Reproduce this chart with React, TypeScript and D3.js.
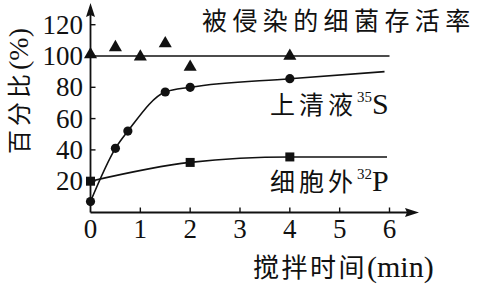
import React from "react";
import * as d3 from "d3";

const W = 480;
const H = 284;

const xTicks = [0, 1, 2, 3, 4, 5, 6];
const yTicks = [20, 40, 60, 80, 100, 120];

// 被侵染的细菌存活率 (triangles)
const survivalTimes = [0, 0.5, 1, 1.5, 2, 4];
const survivalValues = [101, 105.5, 99.5, 108, 93, 100];
const survivalLine = [
  [0, 100],
  [6, 100],
];

// 上清液35S (circles)
const sulfurTimes = [0, 0.5, 0.75, 1.5, 2, 4];
const sulfurValues = [7, 41, 52, 77, 80, 85.5];
const sulfurEnd = [5.9, 90];

// 细胞外32P (squares)
const phosTimes = [0, 2, 4];
const phosValues = [20, 32, 35.5];
const phosEnd = [5.95, 35.5];

const serif = "'Liberation Serif', 'Times New Roman', serif";
const cjk = "'Noto Sans CJK SC', sans-serif";

export default function App() {
  const x = d3.scaleLinear().domain([0, 6]).range([90.5, 389.5]);
  const y = d3.scaleLinear().domain([0, 120]).range([212.5, 24.7]);

  const line = d3
    .line<number[]>()
    .x((d) => x(d[0]))
    .y((d) => y(d[1]))
    .curve(d3.curveMonotoneX);

  const sulfurPts = sulfurTimes.map((t, i) => [t, sulfurValues[i]]).concat([sulfurEnd]);
  const phosPts = phosTimes.map((t, i) => [t, phosValues[i]]).concat([phosEnd]);

  const tri = d3.symbol().type(d3.symbolTriangle).size(74)();

  const x0 = x(0);
  const y0 = y(0);
  const ink = "#111";

  return (
    <svg
      width={W}
      height={H}
      style={{ position: "fixed", left: 0, top: 0, background: "#fff" }}
    >
      {/* axes */}
      <line x1={x0} y1={y0} x2={410} y2={y0} stroke={ink} strokeWidth={1.8} />
      <path d={`M419,${y0} L405,${y0 - 4.5} L407,${y0} L405,${y0 + 4.5} Z`} fill={ink} />
      <line x1={x0} y1={y0} x2={x0} y2={12} stroke={ink} strokeWidth={1.8} />
      <path d={`M${x0},3 L${x0 - 4.5},17 L${x0},15 L${x0 + 4.5},17 Z`} fill={ink} />

      {xTicks.map((t) => (
        <g key={"xt" + t}>
          {t > 0 && (
            <line x1={x(t)} y1={y0} x2={x(t)} y2={y0 - 5} stroke={ink} strokeWidth={1.4} />
          )}
          <text
            x={x(t)}
            y={237.5}
            textAnchor="middle"
            fontFamily={serif}
            fontSize={27}
            fill={ink}
          >
            {t}
          </text>
        </g>
      ))}
      {yTicks.map((t) => (
        <g key={"yt" + t}>
          <line x1={x0} y1={y(t)} x2={x0 + 5} y2={y(t)} stroke={ink} strokeWidth={1.4} />
          <text
            x={83}
            y={y(t)}
            dy="0.34em"
            textAnchor="end"
            fontFamily={serif}
            fontSize={27}
            fill={ink}
          >
            {t}
          </text>
        </g>
      ))}

      {/* survival line */}
      <line
        x1={x(survivalLine[0][0])}
        y1={y(survivalLine[0][1])}
        x2={x(survivalLine[1][0])}
        y2={y(survivalLine[1][1])}
        stroke={ink}
        strokeWidth={1.7}
      />
      {survivalTimes.map((t, i) => (
        <path
          key={"tr" + i}
          d={tri || ""}
          transform={`translate(${x(t)},${y(survivalValues[i])})`}
          fill={ink}
        />
      ))}

      {/* 35S curve */}
      <path d={line(sulfurPts) || ""} fill="none" stroke={ink} strokeWidth={1.6} />
      {sulfurTimes.map((t, i) => (
        <circle key={"c" + i} cx={x(t)} cy={y(sulfurValues[i])} r={4.6} fill={ink} />
      ))}

      {/* 32P curve */}
      <path d={line(phosPts) || ""} fill="none" stroke={ink} strokeWidth={1.6} />
      {phosTimes.map((t, i) => (
        <rect
          key={"s" + i}
          x={x(t) - 4.5}
          y={y(phosValues[i]) - 4.5}
          width={9}
          height={9}
          fill={ink}
        />
      ))}

      {/* labels */}
      <text x={202} y={30} fontFamily={cjk} fontSize={25} letterSpacing={5.4} fill={ink}>
        被侵染的细菌存活率
      </text>
      <text x={270} y={114} fill={ink}>
        <tspan fontFamily={cjk} fontSize={25} letterSpacing={4}>
          上清液
        </tspan>
        <tspan fontFamily={serif} fontSize={15} dy={-12}>
          35
        </tspan>
        <tspan fontFamily={serif} fontSize={30} dy={12}>
          S
        </tspan>
      </text>
      <text x={270} y={191} fill={ink}>
        <tspan fontFamily={cjk} fontSize={25} letterSpacing={4}>
          细胞外
        </tspan>
        <tspan fontFamily={serif} fontSize={15} dy={-12}>
          32
        </tspan>
        <tspan fontFamily={serif} fontSize={30} dy={12}>
          P
        </tspan>
      </text>
      <text x={253} y={277} fill={ink}>
        <tspan fontFamily={cjk} fontSize={26} letterSpacing={2.5}>
          搅拌时间
        </tspan>
        <tspan fontFamily={serif} fontSize={30}>
          (min)
        </tspan>
      </text>
      <text
        transform="translate(28,91) rotate(-90)"
        textAnchor="middle"
        fill={ink}
      >
        <tspan fontFamily={cjk} fontSize={24} letterSpacing={4}>
          百分比
        </tspan>
        <tspan fontFamily={serif} fontSize={28}>
          (%)
        </tspan>
      </text>
    </svg>
  );
}
